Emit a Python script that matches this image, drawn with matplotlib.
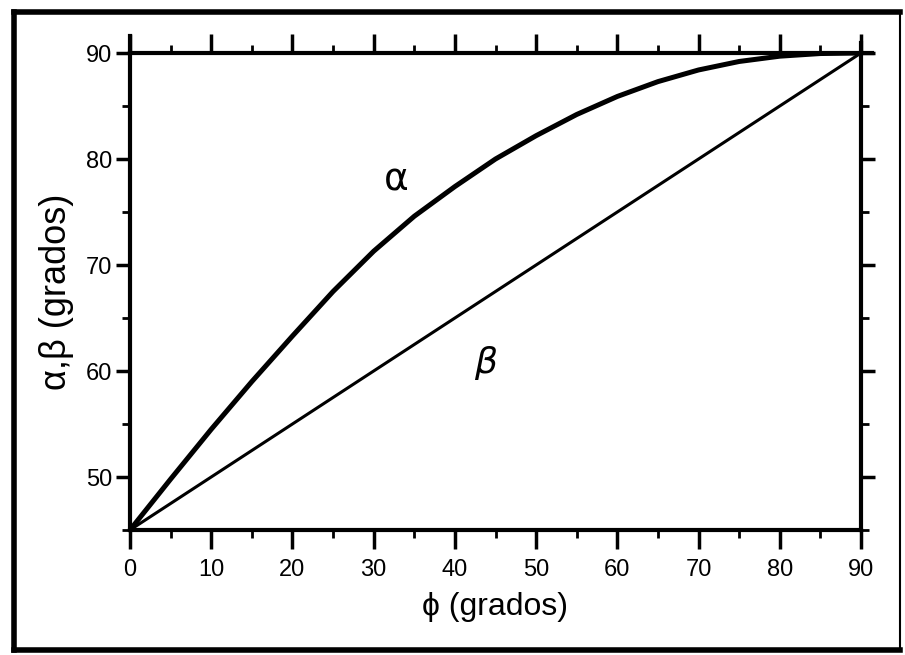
import matplotlib
matplotlib.use("Agg")
import matplotlib.pyplot as plt
from matplotlib.lines import Line2D
from matplotlib.ticker import MultipleLocator

plt.rcParams['font.family'] = ['Liberation Sans', 'DejaVu Sans']

phi = [0, 5, 10, 15, 20, 25, 30, 35, 40, 45, 50, 55, 60, 65, 70, 75, 80, 85, 90]
alpha = [45, 49.8, 54.5, 59.0, 63.3, 67.5, 71.3, 74.6, 77.4, 80.0, 82.2, 84.2, 85.9, 87.3, 88.4, 89.2, 89.7, 89.95, 90]
beta_phi = [0, 90]
beta = [45, 90]

xticks = [0, 10, 20, 30, 40, 50, 60, 70, 80, 90]
yticks = [50, 60, 70, 80, 90]

W, H = 905, 655
fig = plt.figure(figsize=(W / 100, H / 100), dpi=100)
ax = fig.add_axes([130 / W, 1 - 530 / H, (861 - 130) / W, (530 - 53) / H])

ax.plot(phi, alpha, color='black', lw=3.6, solid_capstyle='round', solid_joinstyle='round')
ax.plot(beta_phi, beta, color='black', lw=2.2, solid_capstyle='round')

ax.set_xlim(0, 90)
ax.set_ylim(45, 90)
ax.set_xticks(xticks)
ax.set_yticks(yticks)
ax.xaxis.set_minor_locator(MultipleLocator(5))
ax.yaxis.set_minor_locator(MultipleLocator(5))

for s in ax.spines.values():
    s.set_linewidth(3)

ax.tick_params(axis='x', which='major', direction='out', length=14, width=2.5,
               labelsize=17, pad=7, top=True)
ax.tick_params(axis='x', which='minor', direction='out', length=6, width=2, top=True)
ax.tick_params(axis='y', which='major', direction='out', length=10, width=2.5,
               labelsize=17, pad=3, right=True)
ax.tick_params(axis='y', which='minor', direction='out', length=6, width=2, right=True)

ax.set_xlabel('ϕ (grados)', fontsize=23, labelpad=8)
ax.set_ylabel('α,β (grados)', fontsize=26, labelpad=8)

ax.text(32.8, 78.0, 'α', fontsize=27, ha='center', va='center', family=['DejaVu Sans'])
ax.text(43.8, 60.8, 'β', fontsize=26, ha='center', va='center', style='italic',
        family=['DejaVu Sans'])

# small overshoots of the frame lines as in the reference drawing
ax.add_artist(Line2D([0, 0], [1.0, 1.035], transform=ax.transAxes, color='black',
                     lw=3, clip_on=False))
ax.add_artist(Line2D([1.0, 1.015], [1.0, 1.0], transform=ax.transAxes, color='black',
                     lw=3, clip_on=False))
ax.add_artist(Line2D([1.0, 1.0], [1.0, 1.02], transform=ax.transAxes, color='black',
                     lw=3, clip_on=False))

# outer border around figure
def fl(x0, y0, x1, y1, lw):
    fig.add_artist(Line2D([x0 / W, x1 / W], [1 - y0 / H, 1 - y1 / H],
                          transform=fig.transFigure, color='black', lw=lw))

fl(14, 12, 900, 12, 4)
fl(14, 12, 14, 650, 4)
fl(14, 650, 900, 650, 4)
fl(900, 12, 900, 650, 1.5)

fig.savefig('out.png', dpi=100)
